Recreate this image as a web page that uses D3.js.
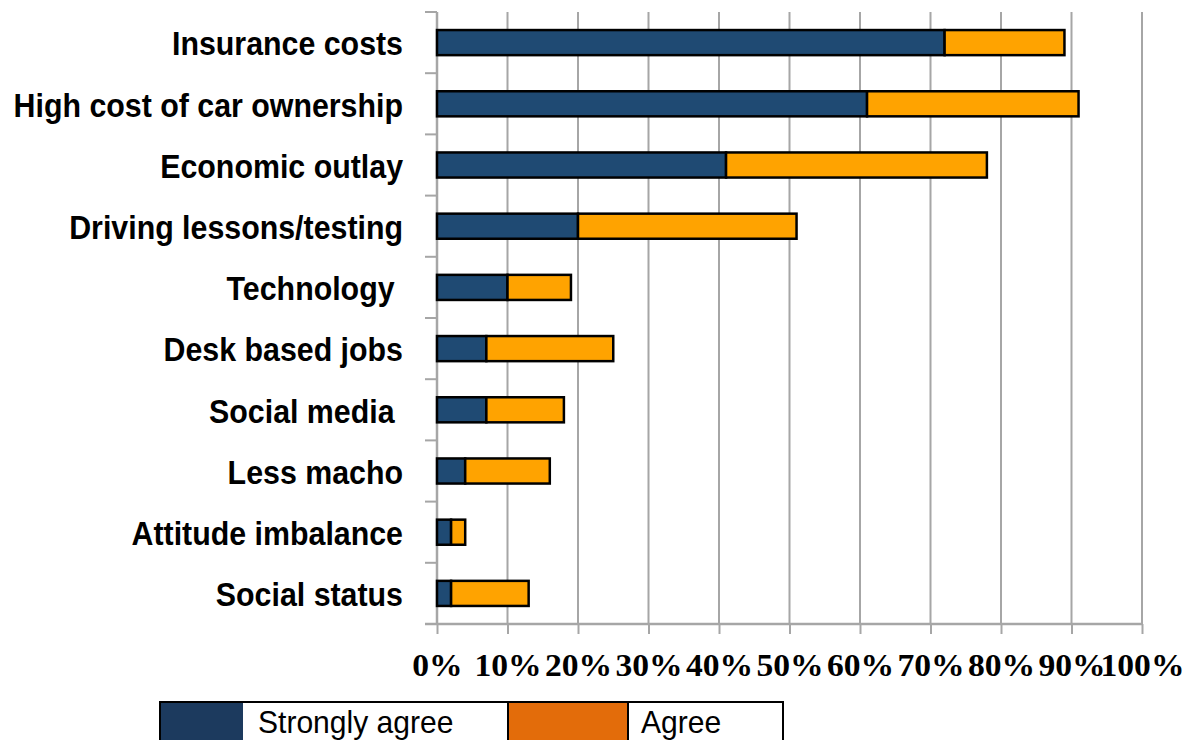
<!DOCTYPE html>
<html>
<head>
<meta charset="utf-8">
<script src="https://cdn.jsdelivr.net/npm/d3@7/dist/d3.min.js"></script>
<style>
  html, body { margin: 0; padding: 0; background: #fff; }
  svg { display: block; }
</style>
</head>
<body>
<script>
// Reasons for declining car use among young people (% of respondents)
const categories = [
  "Insurance costs",
  "High cost of car ownership",
  "Economic outlay",
  "Driving lessons/testing",
  "Technology ",
  "Desk based jobs",
  "Social media ",
  "Less macho",
  "Attitude imbalance",
  "Social status"
];
const stronglyAgree = [72, 61, 41, 20, 10, 7, 7, 4, 2, 2];
const agree         = [17, 30, 37, 31,  9, 18, 11, 12, 2, 11];
const xTicks = [0, 10, 20, 30, 40, 50, 60, 70, 80, 90, 100];
const seriesNames = ["Strongly agree", "Agree"];

const W = 1197, H = 740;
const plotLeft = 437, plotRight = 1142, plotTop = 12, plotBottom = 624;

const svg = d3.select("body").append("svg")
  .attr("width", W).attr("height", H);

const x = d3.scaleLinear().domain([0, 100]).range([plotLeft, plotRight]);
const y = d3.scaleBand().domain(categories).range([plotTop, plotBottom])
  .paddingInner(0.59).paddingOuter(0.295);

const gridColor = "#a6a6a6";

// vertical gridlines
svg.append("g").selectAll("line").data(xTicks.slice(1)).join("line")
  .attr("x1", d => x(d)).attr("x2", d => x(d))
  .attr("y1", plotTop).attr("y2", plotBottom)
  .attr("stroke", gridColor).attr("stroke-width", 2);

// bottom axis
const xAxis = svg.append("g").attr("transform", `translate(0,${plotBottom})`)
  .call(d3.axisBottom(x).tickValues(xTicks).tickSize(10).tickFormat(d => d + "%"));
xAxis.select(".domain").remove();
xAxis.append("line").attr("x1", 425).attr("x2", plotRight).attr("y1", 0).attr("y2", 0)
  .attr("stroke", gridColor).attr("stroke-width", 2.5);
xAxis.selectAll(".tick line").attr("stroke", gridColor).attr("stroke-width", 2);
xAxis.selectAll(".tick text")
  .attr("y", 0).attr("dy", 0)
  .attr("transform", "translate(0,52) scale(1.05,1)")
  .attr("font-family", "'Liberation Serif', 'DejaVu Serif', serif")
  .attr("font-weight", "bold").attr("font-size", 32).attr("fill", "#000");

// left axis with category ticks at band boundaries
const boundaries = categories.map(c => y(c) - y.step() * y.paddingInner() / 2);
boundaries[0] = plotTop;
svg.append("line").attr("x1", plotLeft).attr("x2", plotLeft).attr("y1", plotTop).attr("y2", plotBottom)
  .attr("stroke", gridColor).attr("stroke-width", 2.5);
svg.append("g").selectAll("line").data(boundaries).join("line")
  .attr("x1", 425).attr("x2", plotLeft).attr("y1", d => d).attr("y2", d => d)
  .attr("stroke", gridColor).attr("stroke-width", 2);

// category labels (slightly condensed bold sans)
svg.append("g").selectAll("text").data(categories).join("text")
  .attr("transform", d => `translate(403,${y(d) + y.bandwidth() / 2 + 1}) scale(0.92,1)`)
  .attr("dy", "0.36em").attr("text-anchor", "end")
  .attr("font-family", "'Liberation Sans', Arial, sans-serif")
  .attr("font-weight", "bold").attr("font-size", 33).attr("fill", "#000")
  .style("white-space", "pre")
  .text(d => d);

// stacked bars
const barColors = ["#1f4a73", "#ffa300"];
const rows = categories.map((c, i) => ({ c, sa: stronglyAgree[i], a: agree[i] }));
const stack = d3.stack().keys(["sa", "a"])(rows);
svg.append("g").selectAll("g").data(stack).join("g")
  .attr("fill", (d, i) => barColors[i])
  .selectAll("rect").data(d => d).join("rect")
  .attr("x", d => x(d[0])).attr("width", d => x(d[1]) - x(d[0]))
  .attr("y", d => y(d.data.c)).attr("height", y.bandwidth())
  .attr("stroke", "#000").attr("stroke-width", 2.5);

// legend
const legendColors = ["#1c3a5e", "#e36c0a"];
const lg = svg.append("g");
const lgTop = 702, lgBottom = 745;
lg.append("rect").attr("x", 160).attr("y", lgTop).attr("width", 83).attr("height", lgBottom - lgTop)
  .attr("fill", legendColors[0]);
lg.append("rect").attr("x", 508).attr("y", lgTop).attr("width", 120).attr("height", lgBottom - lgTop)
  .attr("fill", legendColors[1]);
lg.append("rect").attr("x", 160).attr("y", lgTop).attr("width", 623).attr("height", lgBottom - lgTop)
  .attr("fill", "none").attr("stroke", "#000").attr("stroke-width", 2);
lg.append("line").attr("x1", 508).attr("x2", 508).attr("y1", lgTop).attr("y2", lgBottom)
  .attr("stroke", "#000").attr("stroke-width", 2);
lg.append("line").attr("x1", 628).attr("x2", 628).attr("y1", lgTop).attr("y2", lgBottom)
  .attr("stroke", "#000").attr("stroke-width", 2);
lg.selectAll("text.lbl").data(seriesNames).join("text")
  .attr("class", "lbl")
  .attr("transform", (d, i) => `translate(${i === 0 ? 258 : 641},733) scale(0.97,1)`)
  .attr("font-family", "'Liberation Sans', Arial, sans-serif")
  .attr("font-size", 31).attr("fill", "#000")
  .text(d => d);
</script>
</body>
</html>
